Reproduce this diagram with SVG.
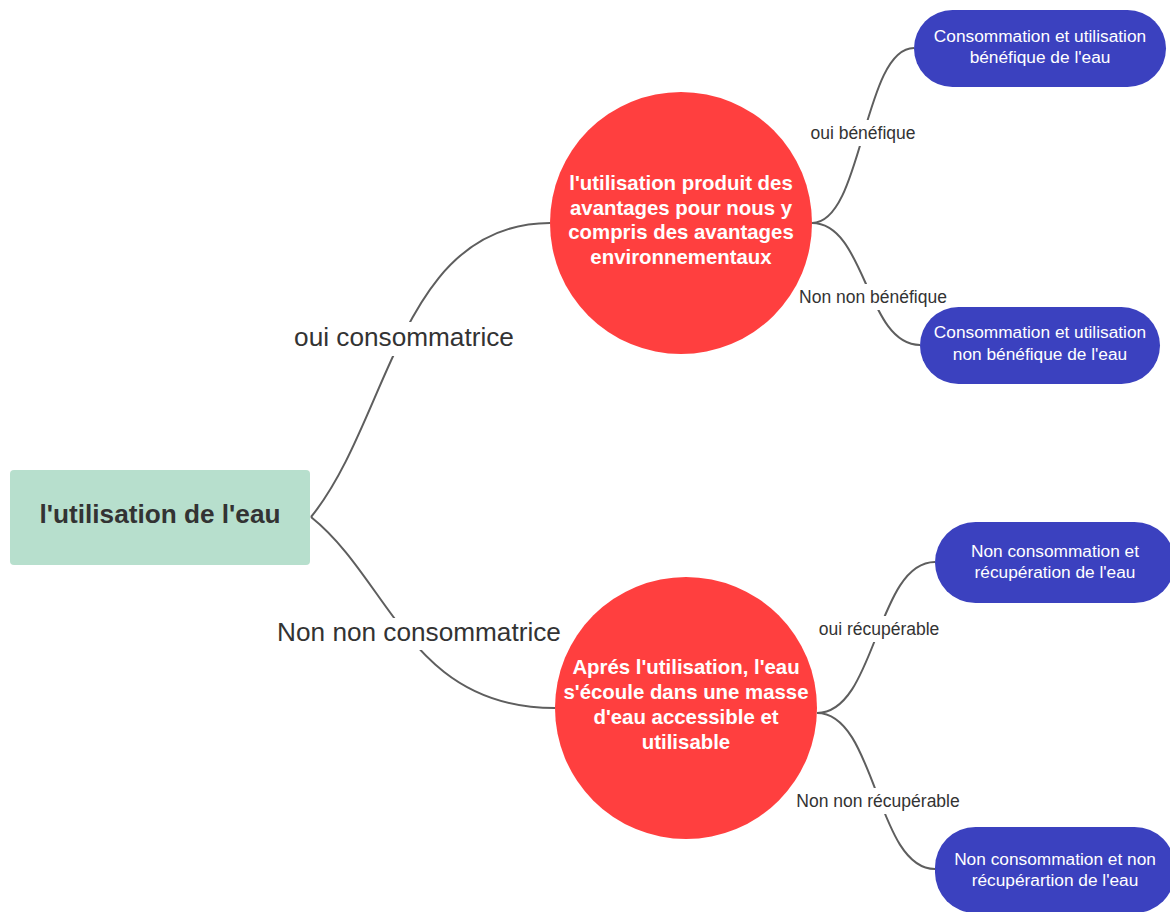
<svg xmlns="http://www.w3.org/2000/svg" width="1170" height="912" viewBox="0 0 1170 912">
  <style>
    .link { fill: none; stroke: #5e5e5e; stroke-width: 2; }
    .lblbg { fill: #ffffff; }
    .lbl-big { font-family: "Liberation Sans", Arial, sans-serif; font-size: 26.2px; fill: #333333; text-anchor: middle; }
    .lbl { font-family: "Liberation Sans", Arial, sans-serif; font-size: 17.5px; fill: #333333; text-anchor: middle; }
    .root { fill: #b7dfcd; }
    .root-txt { font-family: "Liberation Sans", Arial, sans-serif; font-size: 26.2px; font-weight: bold; fill: #333333; text-anchor: middle; }
    .q { fill: #ff3f3f; }
    .q-txt { font-family: "Liberation Sans", Arial, sans-serif; font-size: 20.4px; font-weight: bold; fill: #ffffff; text-anchor: middle; }
    .res { fill: #3b41bf; }
    .res-txt { font-family: "Liberation Sans", Arial, sans-serif; font-size: 17.3px; fill: #ffffff; text-anchor: middle; }
  </style>
  <rect width="1170" height="912" fill="#ffffff"/>

  <!-- connectors with their labels -->
  <g id="connectors">
    <path class="link" d="M311,517 C390,420 400,223 550,223"/>
    <path class="link" d="M311,517 C390,580 410,708 555,708"/>
    <path class="link" d="M812,223 C863,223 863,48 914,48"/>
    <path class="link" d="M812,223 C866,223 866,345 920,345"/>
    <path class="link" d="M817,713 C876,713 876,562 935,562"/>
    <path class="link" d="M817,713 C876,713 876,869 935,869"/>

    <rect class="lblbg" x="290" y="322" width="228" height="34"/>
    <text class="lbl-big" x="404" y="346">oui consommatrice</text>
    <rect class="lblbg" x="274" y="618" width="291" height="32"/>
    <text class="lbl-big" x="419" y="641">Non non consommatrice</text>

    <rect class="lblbg" x="809" y="120" width="109" height="26"/>
    <text class="lbl" x="863" y="139">oui bénéfique</text>
    <rect class="lblbg" x="797" y="284" width="152" height="26"/>
    <text class="lbl" x="873" y="303">Non non bénéfique</text>
    <rect class="lblbg" x="816" y="616" width="126" height="26"/>
    <text class="lbl" x="879" y="635">oui récupérable</text>
    <rect class="lblbg" x="794" y="788" width="168" height="26"/>
    <text class="lbl" x="878" y="807">Non non récupérable</text>
  </g>

  <g id="root">
    <rect class="root" x="10" y="470" width="300" height="95" rx="4"/>
    <text class="root-txt" x="160" y="523">l'utilisation de l'eau</text>
  </g>

  <g id="benefits">
    <circle class="q" cx="681" cy="223" r="131"/>
    <text class="q-txt" x="681" y="190">l'utilisation produit des</text>
    <text class="q-txt" x="681" y="214.5">avantages pour nous y</text>
    <text class="q-txt" x="681" y="239">compris des avantages</text>
    <text class="q-txt" x="681" y="263.5">environnementaux</text>
  </g>

  <g id="return-flow">
    <circle class="q" cx="686" cy="708" r="131"/>
    <text class="q-txt" x="686" y="674">Aprés l'utilisation, l'eau</text>
    <text class="q-txt" x="686" y="699">s'écoule dans une masse</text>
    <text class="q-txt" x="686" y="724">d'eau accessible et</text>
    <text class="q-txt" x="686" y="749">utilisable</text>
  </g>

  <g id="use-beneficial">
    <rect class="res" x="914" y="10" width="252" height="77" rx="38.5"/>
    <text class="res-txt" x="1040" y="42">Consommation et utilisation</text>
    <text class="res-txt" x="1040" y="63">bénéfique de l'eau</text>
  </g>

  <g id="use-not-beneficial">
    <rect class="res" x="920" y="307" width="240" height="77" rx="38.5"/>
    <text class="res-txt" x="1040" y="338">Consommation et utilisation</text>
    <text class="res-txt" x="1040" y="360">non bénéfique de l'eau</text>
  </g>

  <g id="recovered">
    <rect class="res" x="935" y="522" width="240" height="81" rx="40.5"/>
    <text class="res-txt" x="1055" y="557">Non consommation et</text>
    <text class="res-txt" x="1055" y="578">récupération de l'eau</text>
  </g>

  <g id="not-recovered">
    <rect class="res" x="935" y="827" width="240" height="86" rx="40.5"/>
    <text class="res-txt" x="1055" y="865">Non consommation et non</text>
    <text class="res-txt" x="1055" y="886">récupérartion de l'eau</text>
  </g>
</svg>
